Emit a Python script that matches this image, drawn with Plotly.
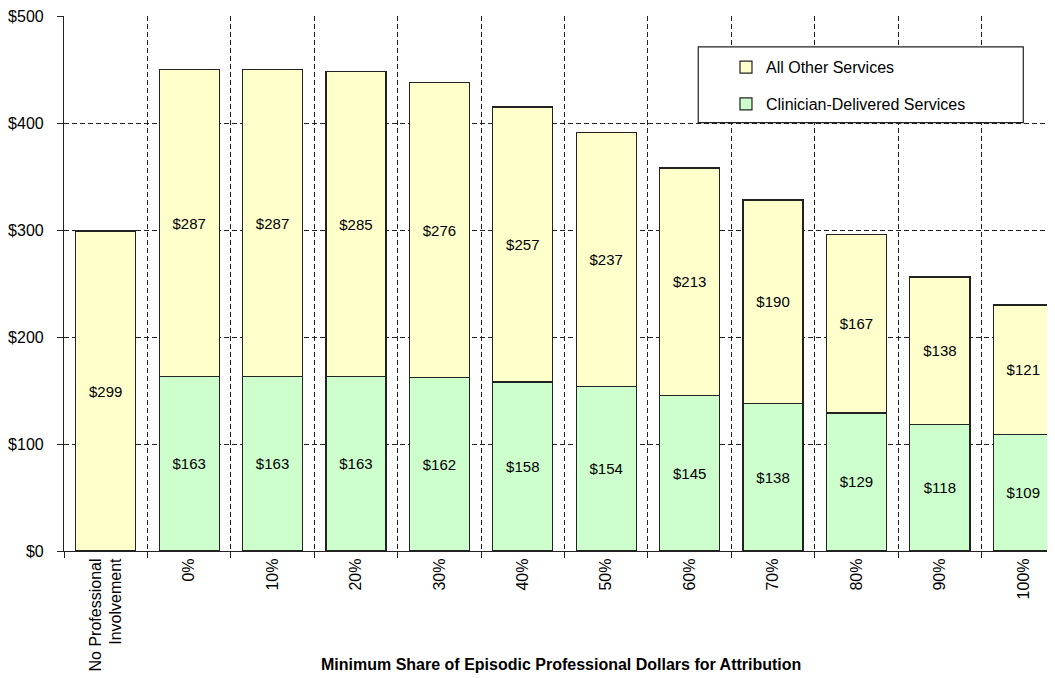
import plotly.graph_objects as go

categories = ["No Professional<br>Involvement", "0%", "10%", "20%", "30%", "40%",
              "50%", "60%", "70%", "80%", "90%", "100%"]
clinician = [0, 163, 163, 163, 162, 158, 154, 145, 138, 129, 118, 109]
other = [299, 287, 287, 285, 276, 257, 237, 213, 190, 167, 138, 121]
y_ticks = [0, 100, 200, 300, 400, 500]
y_tick_labels = ["$0", "$100", "$200", "$300", "$400", "$500"]

FONT = "Liberation Sans, Arial, sans-serif"

def labels(vals):
    return ["" if v == 0 else f"${v}" for v in vals]

fig = go.Figure()
fig.add_trace(go.Bar(
    x=categories, y=clinician, name="Clinician-Delivered Services",
    marker=dict(color="#CCFFCC", line=dict(color="#222222", width=1.2)),
    text=labels(clinician), textposition="inside", insidetextanchor="middle",
    textfont=dict(family=FONT, size=15, color="black"), textangle=0,
    width=0.72, legendgroup="a", legendrank=2,
))
fig.add_trace(go.Bar(
    x=categories, y=other, name="All Other Services",
    marker=dict(color="#FFFFCC", line=dict(color="#222222", width=1.2)),
    text=labels(other), textposition="inside", insidetextanchor="middle",
    textfont=dict(family=FONT, size=15, color="black"), textangle=0,
    width=0.72, legendgroup="b", legendrank=1,
))

fig.update_layout(
    barmode="stack",
    width=1047, height=670,
    margin=dict(l=55.5, r=0, t=6, b=127),
    plot_bgcolor="white", paper_bgcolor="white",
    font=dict(family=FONT, size=16, color="black"),
    uniformtext=dict(mode=False),
    showlegend=True,
    legend=dict(
        x=0.668, y=0.936, xanchor="left", yanchor="top",
        bgcolor="rgba(0,0,0,0)", borderwidth=0,
        traceorder="grouped", tracegroupgap=13,
        font=dict(family=FONT, size=16, color="black"),
    ),
    shapes=[dict(type="rect", xref="paper", yref="paper",
                 x0=0.640, x1=0.968, y0=0.8007, y1=0.9423,
                 line=dict(color="#222222", width=1.2), fillcolor="white",
                 layer="above")],
    annotations=[dict(text="<b>Minimum Share of Episodic Professional Dollars for Attribution</b>",
                      xref="paper", yref="paper", x=0.502, y=-0.212,
                      xanchor="center", yanchor="middle", showarrow=False,
                      font=dict(family=FONT, size=16, color="black"))],
)

fig.update_xaxes(
    type="category", range=[-0.5, 11.38],
    tickson="boundaries", ticks="outside", ticklen=6, tickcolor="#222222",
    showgrid=True, gridcolor="#222222", griddash="5px,3px", gridwidth=1,
    showline=True, linecolor="#222222", linewidth=1.2,
    tickangle=-90, tickfont=dict(family=FONT, size=16, color="black"),
    ticklabeloverflow="allow",
)
fig.update_yaxes(
    range=[0, 500], tickvals=y_ticks, ticktext=y_tick_labels,
    ticks="outside", ticklen=6, tickcolor="#222222", ticklabelstandoff=10,
    showgrid=True, gridcolor="#222222", griddash="5px,3px", gridwidth=1,
    showline=True, linecolor="#222222", linewidth=1.2, zeroline=False,
    tickfont=dict(family=FONT, size=16, color="black"),
    ticklabeloverflow="allow",
)

fig.write_html("out.html")
